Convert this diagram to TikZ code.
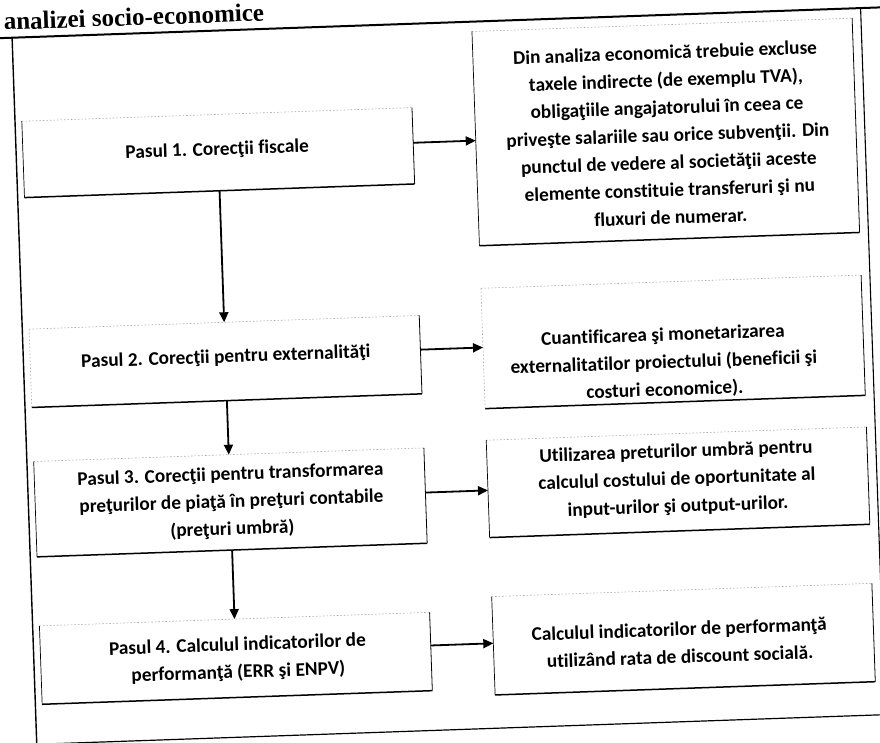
\documentclass[tikz,border=0pt]{standalone}
\usepackage{fontspec}
\setmainfont{Carlito}[Ligatures=NoCommon]
\newfontfamily\titlefont{Liberation Serif}
\usetikzlibrary{arrows.meta}
\begin{document}
\begin{tikzpicture}[x=1pt,y=1pt,
  boxnode/.style={rectangle, inner sep=0pt, draw=none},
  txt/.style={align=center, inner sep=0pt, font=\bfseries\fontsize{19.3}{27.5}\selectfont},
  arr/.style={line width=1.8pt, -{Triangle[length=10pt,width=9pt]}},
  frame/.style={line width=1.4pt, black},
  topedge/.style={line width=0.6pt, gray!70, dash pattern=on 1.5pt off 2pt},
  leftedge/.style={line width=0.7pt, black},
  rightedge/.style={line width=0.8pt, black},
  bottomedge/.style={line width=1.5pt, black}]
\clip (0,0) rectangle (880,743);
\begin{scope}[rotate around={2:(440,371.5)}, transform shape]
  % title
  \node[anchor=base west, inner sep=0pt, font=\titlefont\bfseries\fontsize{25}{28}\selectfont] (title) at (16,728) {analizei socio-economice};
  % frame
  \draw[frame, line width=2pt] (-30,720) -- (910,720);
  \draw[frame] (24,720) -- (24,-30);
  \draw[frame, line width=1.1pt] (873,720) -- (873,13);
  \draw[frame, line width=1.2pt] (24,13) -- (910,13);
  % left boxes
  \node[boxnode, minimum width=390pt, minimum height=76pt] (b1) at (226,598) {};
  \node[boxnode, minimum width=390pt, minimum height=78pt] (b2) at (226,389) {};
  \node[boxnode, minimum width=390pt, minimum height=95pt] (b3) at (226,248) {};
  \node[boxnode, minimum width=390pt, minimum height=78pt] (b4) at (226,92) {};
  % right boxes
  \node[boxnode, minimum width=380pt, minimum height=214pt] (r1) at (674,603) {};
  \node[boxnode, minimum width=380pt, minimum height=120pt] (r2) at (674,393) {};
  \node[boxnode, minimum width=380pt, minimum height=97pt] (r3) at (674,252.5) {};
  \node[boxnode, minimum width=380pt, minimum height=98pt] (r4) at (674,95.5) {};
  % box borders
  \foreach \n in {b1,b2,b3,b4,r1,r2,r3,r4} {
    \draw[topedge] (\n.north west) -- (\n.north east);
    \draw[rightedge] (\n.north east) -- (\n.south east);
    \draw[bottomedge] (\n.south east) -- (\n.south west);
  }
  \foreach \n in {b1,b3,b4,r1,r3,r4} {
    \draw[leftedge] (\n.south west) -- (\n.north west);
  }
  \foreach \n in {b2,r2} {
    \draw[topedge] (\n.south west) -- (\n.north west);
  }
  % texts
  \node[txt] (t1) at (225,600.5) {Pasul 1. Corecţii fiscale};
  \node[txt] (t2) at (226.5,393) {Pasul 2. Corecţii pentru externalităţi};
  \node[txt] (t3) at (227,248) {Pasul 3. Corecţii pentru transformarea\\preţurilor de piaţă în preţuri contabile\\(preţuri umbră)};
  \node[txt] (t4) at (228,91) {Pasul 4. Calculul indicatorilor de\\performanţă (ERR şi ENPV)};
  \node[txt] (u1) at (676,600) {Din analiza economică trebuie excluse\\taxele indirecte (de exemplu TVA),\\obligaţiile angajatorului în ceea ce\\priveşte salariile sau orice subvenţii. Din\\punctul de vedere al societăţii aceste\\elemente constituie transferuri şi nu\\fluxuri de numerar.};
  \node[txt] (u2) at (664,372) {Cuantificarea şi monetarizarea\\externalitatilor proiectului (beneficii şi\\costuri economice).};
  \node[txt] (u3) at (673,255) {Utilizarea preturilor umbră pentru\\calculul costului de oportunitate al\\input-urilor şi output-urilor.};
  \node[txt] (u4) at (670,92) {Calculul indicatorilor de performanţă\\utilizând rata de discount socială.};
  % vertical arrows
  \draw[arr] (b1.south) -- (b2.north);
  \draw[arr] (b2.south) -- (b3.north);
  \draw[arr] (b3.south) -- (b4.north);
  % horizontal arrows
  \draw[arr] ([yshift=3pt]b1.east) -- ([yshift=3pt]b1.east -| r1.west);
  \draw[arr] ([yshift=5pt]b2.east) -- ([yshift=5pt]b2.east -| r2.west);
  \draw[arr] ([yshift=3pt]b3.east) -- ([yshift=3pt]b3.east -| r3.west);
  \draw[arr] ([yshift=6pt]b4.east) -- ([yshift=6pt]b4.east -| r4.west);
\end{scope}
\end{tikzpicture}
\end{document}
